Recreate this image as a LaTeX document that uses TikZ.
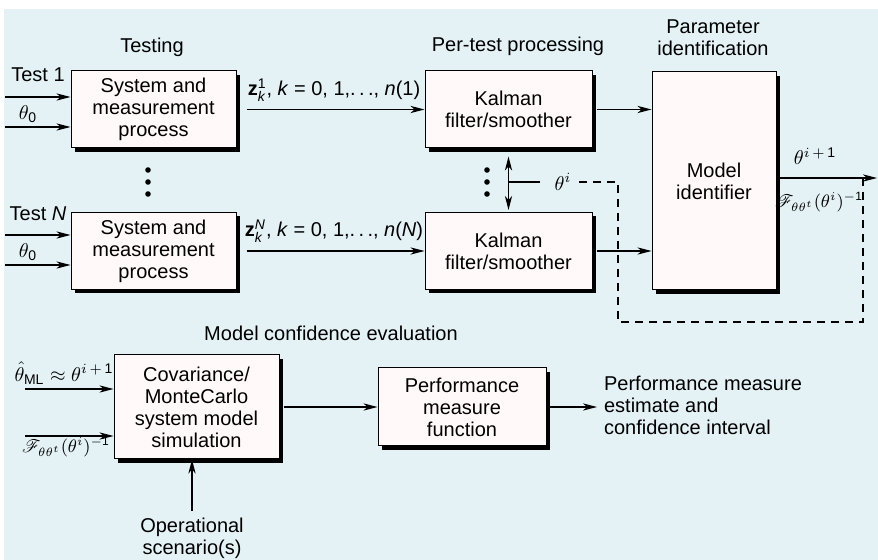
\documentclass[tikz,border=0pt]{standalone}
\usepackage{amsmath}
\usepackage{fontspec}
\setmainfont{Liberation Sans}
\usepackage{mathrsfs}
\usetikzlibrary{arrows.meta,shadows}
\definecolor{panel}{RGB}{228,242,246}
\definecolor{paper}{RGB}{255,249,250}

\begin{document}
\begin{tikzpicture}[x=0.5pt,y=-0.5pt,font=\fontsize{10}{11}\selectfont,
 >={Stealth[length=7pt,width=3.6pt,inset=2pt]},
 box/.style={draw,fill=paper,line width=0.5pt,align=center,inner sep=2pt,
  drop shadow={shadow xshift=2pt,shadow yshift=-2pt,fill=black,opacity=1}},
 arr/.style={->,line width=0.6pt},
 fbk/.style={line width=0.6pt,dash pattern=on 4pt off 3pt},
 sym/.style={inner sep=1pt},
 fsym/.style={font=\fontsize{9}{10}\selectfont,inner sep=1pt}]
% background panel
\fill[white] (0,0) rectangle (878,560);
\fill[panel] (4,9) rectangle (878,560);
\useasboundingbox (0,0) rectangle (878,560);

% testing
\node (testing) at (152,47) {Testing};
\node[box,minimum width=82.5pt,minimum height=38.5pt] (sys1) at (153.5,109.5) {System and\\measurement\\process};
\node[box,minimum width=82.5pt,minimum height=38.5pt] (sys2) at (153.5,251) {System and\\measurement\\process};
\node (test1) at (38,75) {Test 1};
\node[sym] (thzA) at (28,114) {$\theta_{\textup{0}}$};
\node (testN) at (38,214) {Test \textit{N}};
\node[sym] (thzB) at (28,252) {$\theta_{\textup{0}}$};
\coordinate (inA1) at (5,97);
\coordinate (inA2) at (5,127);
\coordinate (inB1) at (5,235);
\coordinate (inB2) at (5,265);
\draw[arr] (inA1) -- (inA1 -| sys1.west);
\draw[arr] (inA2) -- (inA2 -| sys1.west);
\draw[arr] (inB1) -- (inB1 -| sys2.west);
\draw[arr] (inB2) -- (inB2 -| sys2.west);
\foreach \y in {170,182,194} \fill (148,\y) circle[radius=1.4pt];

% per-test processing
\node (pertest) at (518,46) {Per-test processing};
\node[box,minimum width=83.5pt,minimum height=38.5pt] (kal1) at (508.5,109.5) {Kalman\\filter/smoother};
\node[box,minimum width=83.5pt,minimum height=38.5pt] (kal2) at (508.5,251) {Kalman\\filter/smoother};
\node (z1) at (334,90) {\textbf{z}$^{\textup{1}}_{\textit{k}}$, \textit{k} = 0, 1,.\,.\,., \textit{n}(1)};
\node (zN) at (334,231) {\textbf{z}$^{\textit{N}}_{\textit{k}}$, \textit{k} = 0, 1,.\,.\,., \textit{n}(\textit{N})};
\draw[arr] ([xshift=5pt]sys1.east) -- (kal1.west);
\draw[arr] ([xshift=5pt]sys2.east) -- (kal2.west);
\foreach \y in {170,182,194} \fill (487,\y) circle[radius=1.4pt];
\draw[<->,line width=0.6pt] ([yshift=-4pt]kal1.south) -- ([yshift=1pt]kal2.north);

% parameter identification
\node[align=center] (paramid) at (713,38) {Parameter\\identification};
\node[box,minimum width=62pt,minimum height=109pt] (ident) at (714,181) {Model\\identifier};
\draw[arr] ([xshift=2pt]kal1.east) -- (kal1.east -| ident.west);
\draw[arr] ([xshift=2pt]kal2.east) -- (kal2.east -| ident.west);
\coordinate (out) at (877,178);
\coordinate (fb) at (863,178);
\coordinate (loopL) at (618,322);
\draw[arr] (ident.east |- out) -- (out);
\node[sym] (thnext) at (815,156) {$\theta^{i\,+\,\textup{1}}$};
\node[fsym] (fisher) at (819,202) {$\mathscr{F}_{\theta\theta^{t}}(\theta^{i})^{-\textup{1}}$};
\node[sym] (thi) at (563,182) {$\theta^{i}$};
\draw[fbk] (fb) |- (loopL) |- ([xshift=2pt]thi.east);
\draw[line width=0.6pt] ([xshift=-6pt]thi.west) -- (thi.west -| kal1.south);

% model confidence evaluation
\node (mce) at (331,333) {Model confidence evaluation};
\node[box,minimum width=82.5pt,minimum height=52pt] (cov) at (196.5,407) {Covariance/\\MonteCarlo\\system model\\simulation};
\node[box,minimum width=84pt,minimum height=39pt] (perf) at (462,407) {Performance\\measure\\function};
\node[sym] (thml) at (64,373) {$\hat\theta_{\textup{ML}}\approx\theta^{i\,+\,\textup{1}}$};
\node[fsym] (fcov) at (66,447) {$\mathscr{F}_{\theta\theta^{t}}(\theta^{i})^{-\textup{1}}$};
\coordinate (inC1) at (25,389);
\coordinate (inC2) at (25,436);
\draw[arr] (inC1) -- (inC1 -| cov.west);
\draw[arr] (inC2) -- (inC2 -| cov.west);
\draw[arr] ([xshift=2pt]cov.east) -- (perf.west);
\node[anchor=west,align=left] (pmest) at (597,405) {Performance measure\\estimate and\\confidence interval};
\draw[arr] ([xshift=1pt]perf.east) -- (perf.east -| pmest.west);
\node[align=center] (oper) at (192,538) {Operational\\scenario(s)};
\draw[arr] (oper.north) -- (oper.north |- cov.south);
\end{tikzpicture}
\end{document}
